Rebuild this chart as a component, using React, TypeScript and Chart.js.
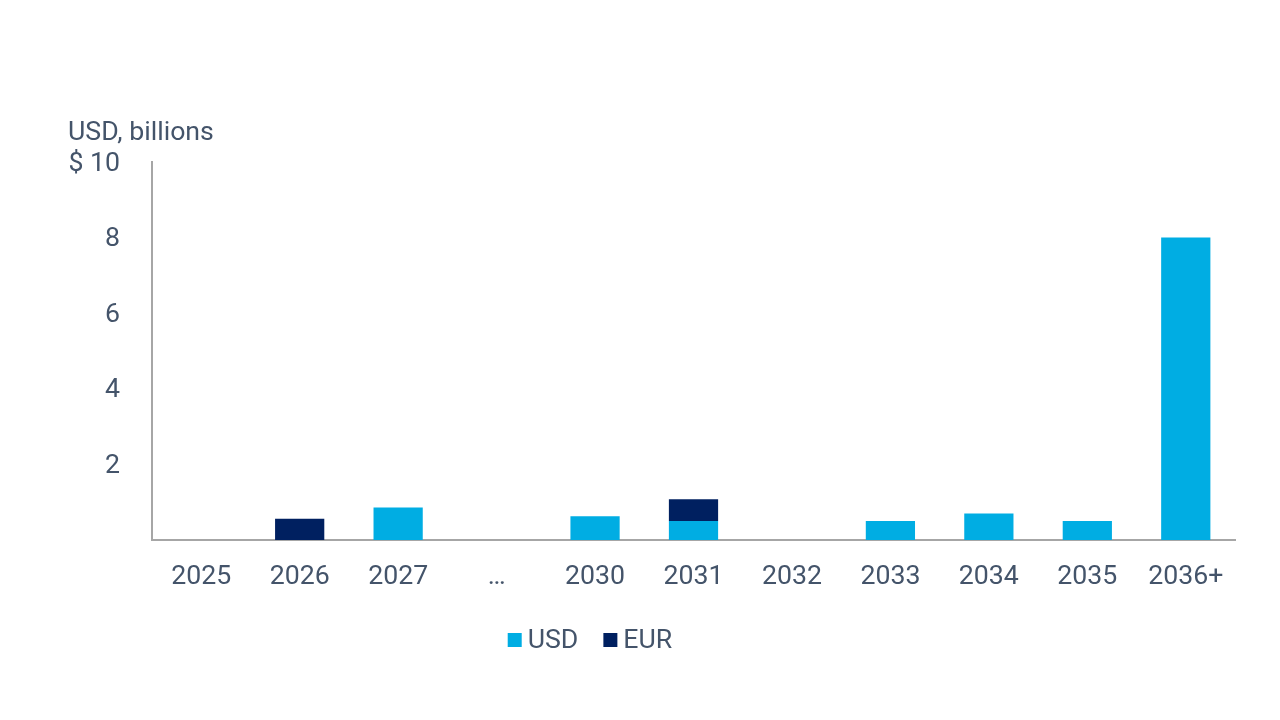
import React, { useEffect, useRef } from "react";
import { Chart, registerables } from "chart.js";

Chart.register(...registerables);

const categories = ["2025", "2026", "2027", "…", "2030", "2031", "2032", "2033", "2034", "2035", "2036+"];
const usdValues = [0, 0, 0.86, 0, 0.63, 0.5, 0, 0.5, 0.7, 0.5, 8.0];
const eurValues = [0, 0.56, 0, 0, 0, 0.58, 0, 0, 0, 0, 0];
const yTicks = [2, 4, 6, 8, 10];
const yTitle = "USD, billions";

const TEXT = "#44546A";
const AXIS = "#A6A6A6";
const USD_COLOR = "#00ADE3";
const EUR_COLOR = "#002060";
const FONT = "Roboto";
const FS = 26.7;

const decorPlugin = {
  id: "decor",
  afterDraw(chart: any) {
    const ctx = chart.ctx;
    const area = chart.chartArea;
    ctx.save();
    ctx.font = `${FS}px ${FONT}`;
    ctx.fillStyle = TEXT;
    ctx.textBaseline = "middle";
    ctx.textAlign = "left";
    // y-axis title
    ctx.fillText(yTitle, area.left - 84, area.top - 29);

    // legend
    const items = chart.data.datasets.map((d: any) => ({ label: d.label, color: d.backgroundColor }));
    const box = 14, gap = 6, spacing = 25;
    const widths = items.map((it: any) => box + gap + ctx.measureText(it.label).width);
    const total = widths.reduce((a: number, b: number) => a + b, 0) + spacing * (items.length - 1);
    let x = 590 - total / 2;
    const cy = 640;
    items.forEach((it: any, i: number) => {
      ctx.fillStyle = it.color;
      ctx.fillRect(x, cy - box / 2, box, box);
      ctx.fillStyle = TEXT;
      ctx.fillText(it.label, x + box + gap, cy + 1);
      x += widths[i] + spacing;
    });
    ctx.restore();
  },
};

export default function App() {
  const ref = useRef<HTMLCanvasElement | null>(null);

  useEffect(() => {
    document.body.style.margin = "0";
    if (!ref.current) return;
    const chart = new Chart(ref.current, {
      type: "bar",
      data: {
        labels: categories,
        datasets: [
          { label: "USD", data: usdValues, backgroundColor: USD_COLOR, borderWidth: 0 },
          { label: "EUR", data: eurValues, backgroundColor: EUR_COLOR, borderWidth: 0 },
        ],
      },
      options: {
        animation: false,
        responsive: true,
        maintainAspectRatio: false,
        layout: { padding: { left: 0, right: 45, top: 162, bottom: 100 } },
        datasets: { bar: { barPercentage: 0.5, categoryPercentage: 1.0 } },
        plugins: { legend: { display: false }, tooltip: { enabled: false } },
        scales: {
          x: {
            stacked: true,
            grid: { display: false, drawTicks: false },
            border: { display: true, color: AXIS, width: 2 },
            ticks: { color: TEXT, font: { family: FONT, size: FS }, padding: 21, maxRotation: 0, autoSkip: false },
            afterFit: (s: any) => { s.height = 80; },
          },
          y: {
            stacked: true,
            min: 0,
            max: 10,
            grid: { display: false, drawTicks: false },
            border: { display: true, color: AXIS, width: 2 },
            afterBuildTicks: (s: any) => { s.ticks = yTicks.map((v) => ({ value: v })); },
            ticks: {
              color: TEXT,
              font: { family: FONT, size: FS },
              padding: 32,
              labelOffset: 2,
              callback: (v: any) => (Number(v) === 10 ? "$ 10" : String(v)),
            },
            afterFit: (s: any) => { s.width = 152; },
          },
        },
      },
      plugins: [decorPlugin],
    });
    return () => chart.destroy();
  }, []);

  return (
    <div style={{ width: 1280, height: 720, position: "relative", background: "#fff" }}>
      <canvas ref={ref} />
    </div>
  );
}
